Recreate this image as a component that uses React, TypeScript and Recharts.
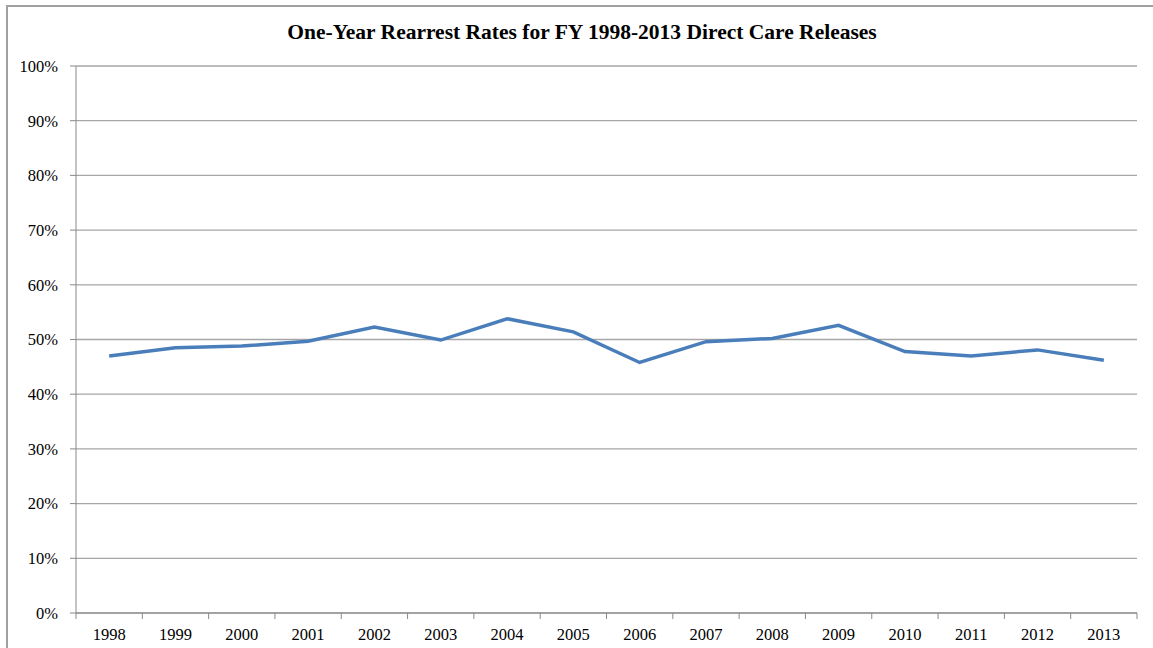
import React from 'react';
import { LineChart, Line, XAxis, YAxis, CartesianGrid } from 'recharts';

// Fiscal years and one-year rearrest rates (%)
const years = ['1998', '1999', '2000', '2001', '2002', '2003', '2004', '2005', '2006', '2007', '2008', '2009', '2010', '2011', '2012', '2013'];
const rearrestRates = [47.0, 48.5, 48.8, 49.7, 52.3, 49.9, 53.8, 51.4, 45.8, 49.6, 50.2, 52.6, 47.8, 47.0, 48.1, 46.2];
const yTicks = [0, 10, 20, 30, 40, 50, 60, 70, 80, 90, 100];

const colors = {
  line: '#4a7ebb',
  grid: '#a6a6a6',
  axis: '#898989',
  border: '#a0a0a0',
  text: '#000000',
};

const fontFamily = '"Liberation Serif", "Times New Roman", serif';

// points sit in the middle of each year slot, ticks mark the slot edges
const data = years.map((year, i) => ({ pos: i + 0.5, year, rate: rearrestRates[i] }));
const xTicks: number[] = [];
for (let i = 0; i <= years.length; i++) {
  xTicks.push(i);
  if (i < years.length) xTicks.push(i + 0.5);
}

const XTick = (props: any) => {
  const { x, y, payload } = props;
  const v = payload.value as number;
  if (Number.isInteger(v)) {
    return <line x1={x} x2={x} y1={y - 6} y2={y} stroke={colors.axis} strokeWidth={1} />;
  }
  const label = years[Math.floor(v)];
  return (
    <text x={x} y={y} dy={21} textAnchor="middle" fill={colors.text} fontSize={16.5} fontFamily={fontFamily}>
      {label}
    </text>
  );
};

const App: React.FC = () => {
  return (
    <div style={{ position: 'fixed', left: 0, top: 0, width: 1153, height: 648, overflow: 'hidden', background: '#fff' }}>
      <div
        style={{
          position: 'absolute',
          left: 6,
          top: 5,
          width: 1170,
          height: 670,
          border: `2px solid ${colors.border}`,
          boxSizing: 'border-box',
        }}
      />
      <div
        style={{
          position: 'absolute',
          left: 0,
          top: 20,
          width: 1164,
          textAlign: 'center',
          fontFamily,
          fontWeight: 'bold',
          fontSize: 21.5,
          color: colors.text,
        }}
      >
        One-Year Rearrest Rates for FY 1998-2013 Direct Care Releases
      </div>
      <div style={{ position: 'absolute', left: 0, top: 0 }}>
        <LineChart width={1153} height={648} data={data} margin={{ top: 66, right: 16, bottom: 0, left: 0 }}>
          <CartesianGrid vertical={false} stroke={colors.grid} strokeWidth={1.3} />
          <XAxis
            dataKey="pos"
            type="number"
            domain={[0, years.length]}
            ticks={xTicks}
            interval={0}
            tick={<XTick />}
            tickLine={false}
            tickSize={6}
            tickMargin={0}
            height={35}
            stroke={colors.axis}
            allowDecimals
          />
          <YAxis
            type="number"
            domain={[0, 100]}
            ticks={yTicks}
            interval={0}
            width={76}
            tickSize={6}
            tickMargin={12}
            stroke={colors.axis}
            tickFormatter={(v: number) => `${v}%`}
            tick={{ fill: colors.text, fontSize: 16.5, fontFamily }}
          />
          <Line
            type="linear"
            dataKey="rate"
            stroke={colors.line}
            strokeWidth={3.5}
            dot={false}
            isAnimationActive={false}
          />
        </LineChart>
      </div>
    </div>
  );
};

export default App;
